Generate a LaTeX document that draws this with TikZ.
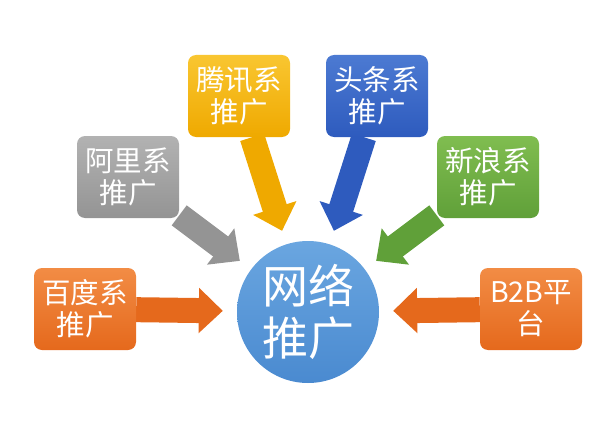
\documentclass[tikz,border=0pt]{standalone}
\usepackage{fontspec}
\newfontfamily\cjk{Noto Sans CJK SC}
\usetikzlibrary{arrows.meta,backgrounds}
\definecolor{orngT}{HTML}{F28C45}\definecolor{orngB}{HTML}{E5691C}
\definecolor{grayT}{HTML}{B2B2B2}\definecolor{grayB}{HTML}{949494}
\definecolor{yellT}{HTML}{F9C631}\definecolor{yellB}{HTML}{EFA900}
\definecolor{blueT}{HTML}{4C7AD2}\definecolor{blueB}{HTML}{2E5BBE}
\definecolor{grenT}{HTML}{80BD50}\definecolor{grenB}{HTML}{60A039}
\definecolor{netT}{HTML}{6AA6E0}\definecolor{netB}{HTML}{4A8AD0}
\tikzset{
  tag/.style={rounded corners=8pt,minimum width=102pt,minimum height=82pt,
    inner sep=0pt,align=center,text=white,font=\cjk\fontsize{28.5}{32}\selectfont,
    top color=#1T,bottom color=#1B},
  spoke/.style={line width=25pt,draw=#1,shorten >=14pt,
    -{Triangle[length=24pt,width=44pt]}}
}

\begin{document}
\begin{tikzpicture}[x=1pt,y=-1pt]
  \useasboundingbox (0,0) rectangle (600,444);
\node[circle,minimum size=142pt,inner sep=0pt,top color=netT,bottom color=netB,
  text=white,align=center,font=\cjk\fontsize{46}{52}\selectfont] (net) at (308,312) {网络\\推广};
\node[tag=orng] (baidu) at (85,309) {百度系\\推广};
\node[tag=gray] (ali) at (128,177) {阿里系\\推广};
\node[tag=yell] (tencent) at (239,96) {腾讯系\\推广};
\node[tag=blue] (toutiao) at (377,96) {头条系\\推广};
\node[tag=gren] (sina) at (488,177) {新浪系\\推广};
\node[tag=orng] (btob) at (531,309) {B2B平\\台};
\begin{scope}[on background layer]
  \foreach \b/\c in {baidu/orngB,ali/grayB,tencent/yellB,toutiao/blueB,sina/grenB,btob/orngB}
    \draw[spoke=\c] (\b) -- (net);
\end{scope}
\end{tikzpicture}
\end{document}
